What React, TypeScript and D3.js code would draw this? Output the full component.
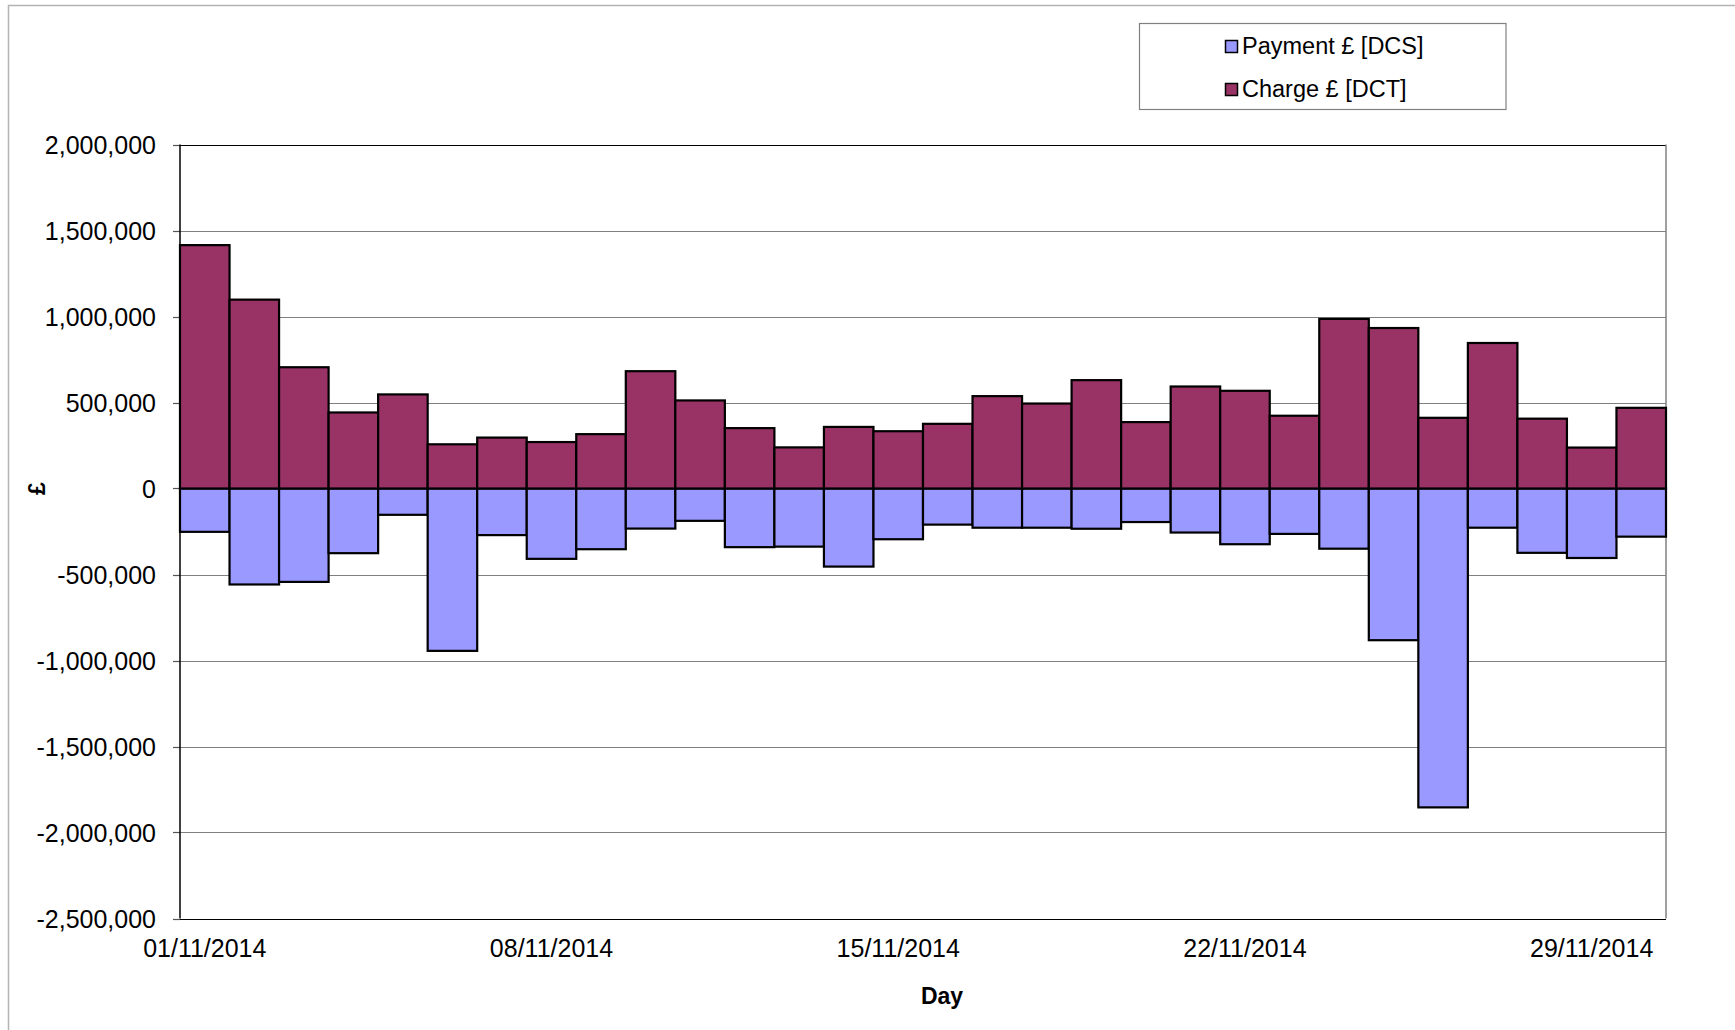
import React, { useRef, useEffect } from "react";
import * as d3 from "d3";

const days = [
    "01/11/2014", "02/11/2014", "03/11/2014", "04/11/2014", "05/11/2014",
    "06/11/2014", "07/11/2014", "08/11/2014", "09/11/2014", "10/11/2014",
    "11/11/2014", "12/11/2014", "13/11/2014", "14/11/2014", "15/11/2014",
    "16/11/2014", "17/11/2014", "18/11/2014", "19/11/2014", "20/11/2014",
    "21/11/2014", "22/11/2014", "23/11/2014", "24/11/2014", "25/11/2014",
    "26/11/2014", "27/11/2014", "28/11/2014", "29/11/2014", "30/11/2014"
];

// Charge £ [DCT], positive
const charge = [
    1415000, 1098000, 705000, 442000, 547000, 257000, 296000, 270000, 316000, 682000,
    512000, 351000, 239000, 358000, 333000, 376000, 537000, 494000, 630000, 386000,
    593000, 568000, 423000, 986000, 933000, 411000, 846000, 406000, 238000, 469000
];

// Payment £ [DCS], negative
const payment = [
    -252000, -558000, -543000, -376000, -153000, -944000, -271000, -409000, -353000, -233000,
    -188000, -341000, -338000, -454000, -295000, -210000, -228000, -228000, -234000, -195000,
    -256000, -324000, -264000, -350000, -882000, -1854000, -228000, -374000, -404000, -280000
];

const xTickLabels = ["01/11/2014", "08/11/2014", "15/11/2014", "22/11/2014", "29/11/2014"];
const yTicks = [2000000, 1500000, 1000000, 500000, 0, -500000, -1000000, -1500000, -2000000, -2500000];

const seriesNames = ["Payment £ [DCS]", "Charge £ [DCT]"];
const CHARGE_COLOR = "#993366";
const PAYMENT_COLOR = "#9999ff";
const FONT = "'Liberation Sans', Arial, sans-serif";

export default function App() {
    const svgRef = useRef<SVGSVGElement>(null);

    useEffect(() => {
        const svg = d3.select(svgRef.current);
        svg.selectAll("*").remove();

        const left = 180;
        const right = 1666;
        const top = 144.5;
        const bottom = 918.5;

        const x = d3.scaleBand().domain(days).range([left, right]).padding(0);
        const y = d3.scaleLinear().domain([-2500000, 2000000]).range([bottom, top]);
        // plain hyphen for negatives, like the original
        const fmt = (v: number) => d3.format(",")(v).replace("\u2212", "-");

        // outer chart border
        svg.append("rect")
            .attr("x", 8.5)
            .attr("y", 5.5)
            .attr("width", 1740)
            .attr("height", 1040)
            .attr("fill", "none")
            .attr("stroke", "#b4b4b4")
            .attr("stroke-width", 1.5);

        // gridlines
        svg.append("g")
            .selectAll("line")
            .data(yTicks)
            .enter()
            .append("line")
            .attr("x1", left)
            .attr("x2", right)
            .attr("y1", d => Math.round(y(d)) + 0.5)
            .attr("y2", d => Math.round(y(d)) + 0.5)
            .attr("stroke", d => (d === 2000000 || d === -2500000 ? "#000" : "#808080"))
            .attr("stroke-width", 1.2);

        // right border
        svg.append("line")
            .attr("x1", right).attr("x2", right)
            .attr("y1", top).attr("y2", bottom)
            .attr("stroke", "#808080")
            .attr("stroke-width", 1.5);

        // y ticks and labels
        const yAxis = svg.append("g");
        yAxis.selectAll("line")
            .data(yTicks)
            .enter()
            .append("line")
            .attr("x1", left - 7)
            .attr("x2", left)
            .attr("y1", d => Math.round(y(d)) + 0.5)
            .attr("y2", d => Math.round(y(d)) + 0.5)
            .attr("stroke", "#555")
            .attr("stroke-width", 1.2);

        yAxis.selectAll("text")
            .data(yTicks)
            .enter()
            .append("text")
            .attr("x", 156)
            .attr("y", d => y(d))
            .attr("dy", "0.36em")
            .attr("text-anchor", "end")
            .attr("font-family", FONT)
            .attr("font-size", 25)
            .attr("fill", "#000")
            .text(d => fmt(d));

        // payment bars (negative)
        svg.append("g")
            .selectAll("rect")
            .data(payment)
            .enter()
            .append("rect")
            .attr("x", (d, i) => x(days[i]))
            .attr("y", y(0))
            .attr("width", x.bandwidth())
            .attr("height", d => y(d) - y(0))
            .attr("fill", PAYMENT_COLOR)
            .attr("stroke", "#000")
            .attr("stroke-width", 2.2);

        // charge bars (positive)
        svg.append("g")
            .selectAll("rect")
            .data(charge)
            .enter()
            .append("rect")
            .attr("x", (d, i) => x(days[i]))
            .attr("y", d => y(d))
            .attr("width", x.bandwidth())
            .attr("height", d => y(0) - y(d))
            .attr("fill", CHARGE_COLOR)
            .attr("stroke", "#000")
            .attr("stroke-width", 2.2);

        // left axis line
        svg.append("line")
            .attr("x1", left).attr("x2", left)
            .attr("y1", top).attr("y2", bottom)
            .attr("stroke", "#000")
            .attr("stroke-width", 1.5);

        // x labels
        svg.append("g")
            .selectAll("text")
            .data(xTickLabels)
            .enter()
            .append("text")
            .attr("x", d => x(d) + x.bandwidth() / 2)
            .attr("y", 957)
            .attr("text-anchor", "middle")
            .attr("font-family", FONT)
            .attr("font-size", 25)
            .attr("fill", "#000")
            .text(d => d);

        // axis titles
        svg.append("text")
            .attr("x", 942)
            .attr("y", 1004)
            .attr("text-anchor", "middle")
            .attr("font-family", FONT)
            .attr("font-size", 23)
            .attr("font-weight", "bold")
            .text("Day");

        svg.append("text")
            .attr("transform", "translate(45,488.5) rotate(-90)")
            .attr("text-anchor", "middle")
            .attr("font-family", FONT)
            .attr("font-size", 23)
            .attr("font-weight", "bold")
            .text("£");

        // legend
        const legend = svg.append("g");
        legend.append("rect")
            .attr("x", 1139.5)
            .attr("y", 23.5)
            .attr("width", 366.5)
            .attr("height", 86)
            .attr("fill", "#fff")
            .attr("stroke", "#808080")
            .attr("stroke-width", 1.2);

        const legendColors = [PAYMENT_COLOR, CHARGE_COLOR];
        const item = legend.selectAll("g.item")
            .data(seriesNames)
            .enter()
            .append("g")
            .attr("class", "item")
            .attr("transform", (d, i) => `translate(0, ${i * 43})`);

        item.append("rect")
            .attr("x", 1225.5)
            .attr("y", 40.5)
            .attr("width", 12)
            .attr("height", 12)
            .attr("fill", (d, i) => legendColors[i])
            .attr("stroke", "#000")
            .attr("stroke-width", 1.5);

        item.append("text")
            .attr("x", 1242)
            .attr("y", 54)
            .attr("font-family", FONT)
            .attr("font-size", 23.5)
            .attr("fill", "#000")
            .text(d => d);
    }, []);

    return (
        <svg
            ref={svgRef}
            width={1735}
            height={1030}
            style={{ position: "absolute", left: 0, top: 0, background: "#fff" }}
        ></svg>
    );
}
